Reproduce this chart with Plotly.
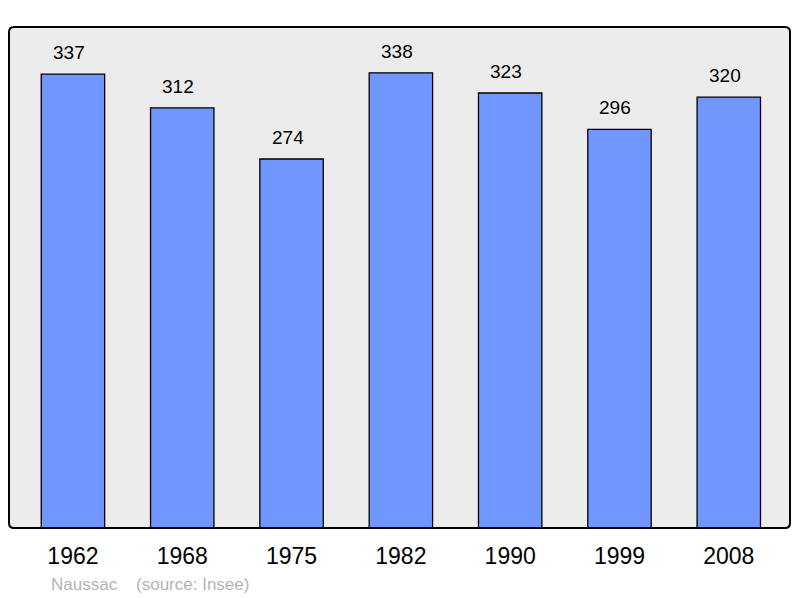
import plotly.graph_objects as go

# population by census year
years = ["1962", "1968", "1975", "1982", "1990", "1999", "2008"]
population = [337, 312, 274, 338, 323, 296, 320]

fig = go.Figure()

fig.add_trace(go.Bar(
    x=years,
    y=population,
    width=0.58,
    marker=dict(color="#7096ff", line=dict(color="#000000", width=1.3)),
    hoverinfo="x+y",
    showlegend=False,
))

# value labels above each bar (category axis -> use index for x)
for i, val in enumerate(population):
    fig.add_annotation(
        x=i, y=val,
        text=str(val),
        showarrow=False,
        yanchor="bottom",
        yshift=9, xshift=-4,
        font=dict(family="Liberation Sans, Arial", size=19, color="#000000"),
    )

# frame with slightly rounded corners
rx, ry = 5 / 781, 5 / 501
frame = (
    f"M {rx},0 L {1-rx},0 Q 1,0 1,{ry} L 1,{1-ry} Q 1,1 {1-rx},1 "
    f"L {rx},1 Q 0,1 0,{1-ry} L 0,{ry} Q 0,0 {rx},0 Z"
)
fig.add_shape(type="path", xref="paper", yref="paper", path=frame,
              line=dict(color="#000000", width=2), layer="above")

fig.add_annotation(
    xref="paper", yref="paper", x=0.0512, y=-0.112,
    xanchor="left", yanchor="middle",
    text="Naussac\u00a0\u00a0\u00a0\u00a0(source: Insee)",
    showarrow=False,
    font=dict(family="Liberation Sans, Arial", size=17, color="#b4b4b4"),
)

# page body has an 8px margin, so the figure is offset by 8px
fig.update_layout(
    width=784, height=590,
    margin=dict(l=1, r=2, t=19, b=70),
    paper_bgcolor="#ffffff",
    plot_bgcolor="#ececec",
    font=dict(family="Liberation Sans, Arial", color="#000000"),
    bargap=0.42,
    xaxis=dict(
        type="category",
        range=[-0.585, 6.56],
        showgrid=False, zeroline=False, showline=False,
        ticks="", ticklabelstandoff=12,
        tickfont=dict(size=23, color="#000000"),
        fixedrange=True,
    ),
    yaxis=dict(
        range=[0, 372],
        showgrid=False, zeroline=False, showline=False,
        showticklabels=False, ticks="",
        fixedrange=True,
    ),
)

fig.write_html("out.html")
